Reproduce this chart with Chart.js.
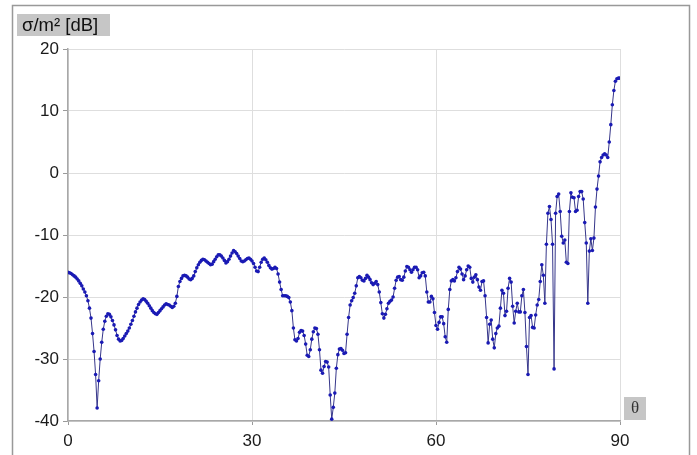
<!DOCTYPE html>
<html>
<head>
<meta charset="utf-8">
<script src="https://cdn.jsdelivr.net/npm/chart.js@4/dist/chart.umd.min.js"></script>
<style>
  html, body { margin: 0; padding: 0; background: #fff; }
  #wrap { position: relative; width: 697px; height: 455px; }
</style>
</head>
<body>
<div id="wrap"><canvas id="rcsChart" width="697" height="455"></canvas></div>
<script>
// incidence angle in degrees (0.25 deg steps)
const theta = [
  0, 0.25, 0.5, 0.75, 1, 1.25, 1.5, 1.75, 2, 2.25, 2.5, 2.75, 3, 3.25, 3.5, 3.75, 4, 4.25, 4.5, 4.75,
  5, 5.25, 5.5, 5.75, 6, 6.25, 6.5, 6.75, 7, 7.25, 7.5, 7.75, 8, 8.25, 8.5, 8.75, 9, 9.25, 9.5, 9.75,
  10, 10.25, 10.5, 10.75, 11, 11.25, 11.5, 11.75, 12, 12.25, 12.5, 12.75, 13, 13.25, 13.5, 13.75, 14, 14.25, 14.5, 14.75,
  15, 15.25, 15.5, 15.75, 16, 16.25, 16.5, 16.75, 17, 17.25, 17.5, 17.75, 18, 18.25, 18.5, 18.75, 19, 19.25, 19.5, 19.75,
  20, 20.25, 20.5, 20.75, 21, 21.25, 21.5, 21.75, 22, 22.25, 22.5, 22.75, 23, 23.25, 23.5, 23.75, 24, 24.25, 24.5, 24.75,
  25, 25.25, 25.5, 25.75, 26, 26.25, 26.5, 26.75, 27, 27.25, 27.5, 27.75, 28, 28.25, 28.5, 28.75, 29, 29.25, 29.5, 29.75,
  30, 30.25, 30.5, 30.75, 31, 31.25, 31.5, 31.75, 32, 32.25, 32.5, 32.75, 33, 33.25, 33.5, 33.75, 34, 34.25, 34.5, 34.75,
  35, 35.25, 35.5, 35.75, 36, 36.25, 36.5, 36.75, 37, 37.25, 37.5, 37.75, 38, 38.25, 38.5, 38.75, 39, 39.25, 39.5, 39.75,
  40, 40.25, 40.5, 40.75, 41, 41.25, 41.5, 41.75, 42, 42.25, 42.5, 42.75, 43, 43.25, 43.5, 43.75, 44, 44.25, 44.5, 44.75,
  45, 45.25, 45.5, 45.75, 46, 46.25, 46.5, 46.75, 47, 47.25, 47.5, 47.75, 48, 48.25, 48.5, 48.75, 49, 49.25, 49.5, 49.75,
  50, 50.25, 50.5, 50.75, 51, 51.25, 51.5, 51.75, 52, 52.25, 52.5, 52.75, 53, 53.25, 53.5, 53.75, 54, 54.25, 54.5, 54.75,
  55, 55.25, 55.5, 55.75, 56, 56.25, 56.5, 56.75, 57, 57.25, 57.5, 57.75, 58, 58.25, 58.5, 58.75, 59, 59.25, 59.5, 59.75,
  60, 60.25, 60.5, 60.75, 61, 61.25, 61.5, 61.75, 62, 62.25, 62.5, 62.75, 63, 63.25, 63.5, 63.75, 64, 64.25, 64.5, 64.75,
  65, 65.25, 65.5, 65.75, 66, 66.25, 66.5, 66.75, 67, 67.25, 67.5, 67.75, 68, 68.25, 68.5, 68.75, 69, 69.25, 69.5, 69.75,
  70, 70.25, 70.5, 70.75, 71, 71.25, 71.5, 71.75, 72, 72.25, 72.5, 72.75, 73, 73.25, 73.5, 73.75, 74, 74.25, 74.5, 74.75,
  75, 75.25, 75.5, 75.75, 76, 76.25, 76.5, 76.75, 77, 77.25, 77.5, 77.75, 78, 78.25, 78.5, 78.75, 79, 79.25, 79.5, 79.75,
  80, 80.25, 80.5, 80.75, 81, 81.25, 81.5, 81.75, 82, 82.25, 82.5, 82.75, 83, 83.25, 83.5, 83.75, 84, 84.25, 84.5, 84.75,
  85, 85.25, 85.5, 85.75, 86, 86.25, 86.5, 86.75, 87, 87.25, 87.5, 87.75, 88, 88.25, 88.5, 88.75, 89, 89.25, 89.5, 89.75,
  90
];

// sigma/m^2 in dB, one row per 5 degrees
const sigmaDb = [
  -16.0, -16.1, -16.2, -16.4, -16.6, -16.8, -17.1, -17.4, -17.8, -18.2, -18.7, -19.2, -19.8, -20.6, -21.8, -23.4, -25.9, -28.8, -32.5, -37.9,
  -33.5, -30.0, -27.3, -25.2, -23.9, -23.1, -22.7, -22.8, -23.2, -23.8, -24.5, -25.3, -26.2, -26.8, -27.1, -27.0, -26.7, -26.3, -25.9, -25.5,
  -25.0, -24.4, -23.8, -23.1, -22.4, -21.8, -21.2, -20.8, -20.5, -20.3, -20.4, -20.7, -21.0, -21.4, -21.8, -22.2, -22.5, -22.7, -22.8, -22.5,
  -22.2, -21.9, -21.6, -21.3, -21.1, -21.2, -21.3, -21.5, -21.7, -21.5, -21.0, -19.9, -18.3, -17.5, -17.0, -16.6, -16.5, -16.6, -16.8, -17.1,
  -17.2, -17.0, -16.6, -15.9, -15.3, -14.8, -14.4, -14.1, -13.9, -14.0, -14.2, -14.4, -14.6, -14.8, -14.7, -14.3, -13.9, -13.5, -13.2, -13.2,
  -13.4, -13.7, -14.1, -14.5, -14.3, -13.9, -13.4, -12.9, -12.5, -12.7, -13.0, -13.4, -13.8, -14.2, -14.3, -14.2, -14.0, -13.8, -13.7, -13.9,
  -14.2, -14.6, -15.2, -15.8, -15.9, -15.2, -14.4, -13.9, -13.7, -14.0, -14.4, -14.9, -15.3, -15.5, -15.4, -15.2, -15.4, -16.3, -17.6, -18.8,
  -19.8, -19.8, -19.8, -19.9, -20.1, -20.8, -22.2, -25.0, -26.9, -27.1, -26.7, -25.7, -25.4, -25.5, -26.2, -27.6, -29.4, -29.6, -28.5, -26.8,
  -25.6, -25.0, -25.1, -26.0, -28.5, -31.8, -32.3, -31.2, -30.4, -30.5, -31.3, -35.8, -39.7, -37.8, -35.5, -31.5, -29.3, -28.4, -28.3, -28.6,
  -29.1, -29.0, -26.0, -23.3, -21.3, -20.6, -20.1, -19.4, -18.2, -16.9, -16.7, -16.9, -17.3, -17.4, -17.0, -16.5, -16.8, -17.2, -17.7, -18.0,
  -17.8, -17.5, -18.0, -19.2, -20.9, -22.7, -23.4, -22.8, -21.9, -21.0, -20.7, -20.5, -20.0, -18.6, -17.3, -16.8, -16.7, -17.2, -17.3, -16.8,
  -15.8, -15.1, -15.2, -15.6, -16.0, -15.6, -15.2, -15.2, -15.6, -16.9, -16.6, -16.1, -16.0, -16.6, -19.2, -20.8, -20.8, -19.9, -20.3, -22.5,
  -24.6, -25.2, -24.1, -23.2, -23.2, -24.3, -26.4, -27.3, -22.0, -18.8, -17.4, -17.2, -17.4, -16.9, -15.9, -15.2, -15.5, -16.3, -17.2, -16.6,
  -15.6, -15.0, -15.2, -17.0, -17.6, -16.8, -16.4, -17.2, -18.4, -18.9, -17.5, -17.4, -19.8, -23.3, -27.4, -24.4, -23.7, -26.8, -28.2, -25.9,
  -25.0, -24.7, -21.8, -18.9, -19.4, -23.0, -22.3, -18.6, -17.0, -17.6, -21.5, -24.2, -22.3, -21.0, -22.4, -22.4, -19.8, -18.8, -22.5, -28.0,
  -32.5, -23.3, -23.0, -24.9, -25.0, -22.9, -21.3, -20.4, -17.5, -14.8, -16.5, -21.0, -11.5, -6.5, -5.4, -7.5, -11.5, -31.6, -6.5, -3.8,
  -3.4, -6.2, -10.2, -11.3, -10.8, -14.4, -14.6, -6.2, -3.2, -3.9, -4.0, -6.2, -6.0, -3.8, -3.0, -3.0, -4.2, -8.0, -11.3, -21.0,
  -12.6, -10.6, -12.5, -10.5, -5.5, -2.6, -0.5, 1.8, 2.5, 2.9, 3.1, 2.9, 2.5, 5.0, 7.8, 11.0, 13.3, 14.8, 15.2, 15.3,
  15.3
];

const xTicks = [0, 30, 60, 90];
const yTicks = [-40, -30, -20, -10, 0, 10, 20];
const yTitle = 'σ/m² [dB]';
const xTitle = 'θ';

const FONT = "'Liberation Sans', Arial, sans-serif";

// frame round the figure plus the two grey label boxes
const decorPlugin = {
    id: 'decor',
    afterDraw(chart) {
        const ctx = chart.ctx;
        ctx.save();
        ctx.strokeStyle = '#999999';
        ctx.lineWidth = 1.5;
        ctx.strokeRect(12.5, 5.5, 677, 470);

        ctx.fillStyle = '#c6c6c6';
        ctx.fillRect(17, 14, 93, 22);
        ctx.fillStyle = '#111';
        ctx.font = '18.5px ' + FONT;
        ctx.textBaseline = 'middle';
        ctx.textAlign = 'left';
        ctx.fillText(yTitle, 22, 26);

        ctx.fillStyle = '#c6c6c6';
        ctx.fillRect(624, 397, 22, 23);
        ctx.fillStyle = '#333';
        ctx.font = "17px 'Liberation Serif', 'DejaVu Serif', serif";
        ctx.textAlign = 'center';
        ctx.fillText(xTitle, 635, 409);
        ctx.restore();
    }
};

const ctx = document.getElementById('rcsChart').getContext('2d');
const points = theta.map((t, i) => ({ x: t, y: sigmaDb[i] }));

new Chart(ctx, {
    type: 'scatter',
    data: {
        datasets: [{
            data: points,
            showLine: true,
            borderColor: '#36368a',
            borderWidth: 1,
            pointRadius: 1.8,
            pointBackgroundColor: '#1a1ab4',
            pointBorderWidth: 0,
            tension: 0
        }]
    },
    options: {
        responsive: false,
        animation: false,
        layout: { padding: { left: 12, right: 77, top: 49, bottom: 0 } },
        plugins: { legend: { display: false }, tooltip: { enabled: false } },
        scales: {
            x: {
                type: 'linear', min: 0, max: 90,
                afterFit: s => { s.height = 34; },
                afterBuildTicks: s => { s.ticks = xTicks.map(v => ({ value: v })); },
                grid: { color: '#dedede', tickColor: '#9a9a9a', tickLength: 4 },
                border: { color: '#a8a8a8', width: 1.5 },
                ticks: { color: '#1a1a1a', font: { family: FONT, size: 17 }, padding: 6 }
            },
            y: {
                type: 'linear', min: -40, max: 20,
                afterFit: s => { s.width = 56; },
                afterBuildTicks: s => { s.ticks = yTicks.map(v => ({ value: v })); },
                grid: { color: '#dedede', tickColor: '#9a9a9a', tickLength: 5 },
                border: { color: '#a8a8a8', width: 1.5 },
                ticks: { color: '#1a1a1a', font: { family: FONT, size: 17 }, padding: 4 }
            }
        }
    },
    plugins: [decorPlugin]
});
</script>
</body>
</html>
